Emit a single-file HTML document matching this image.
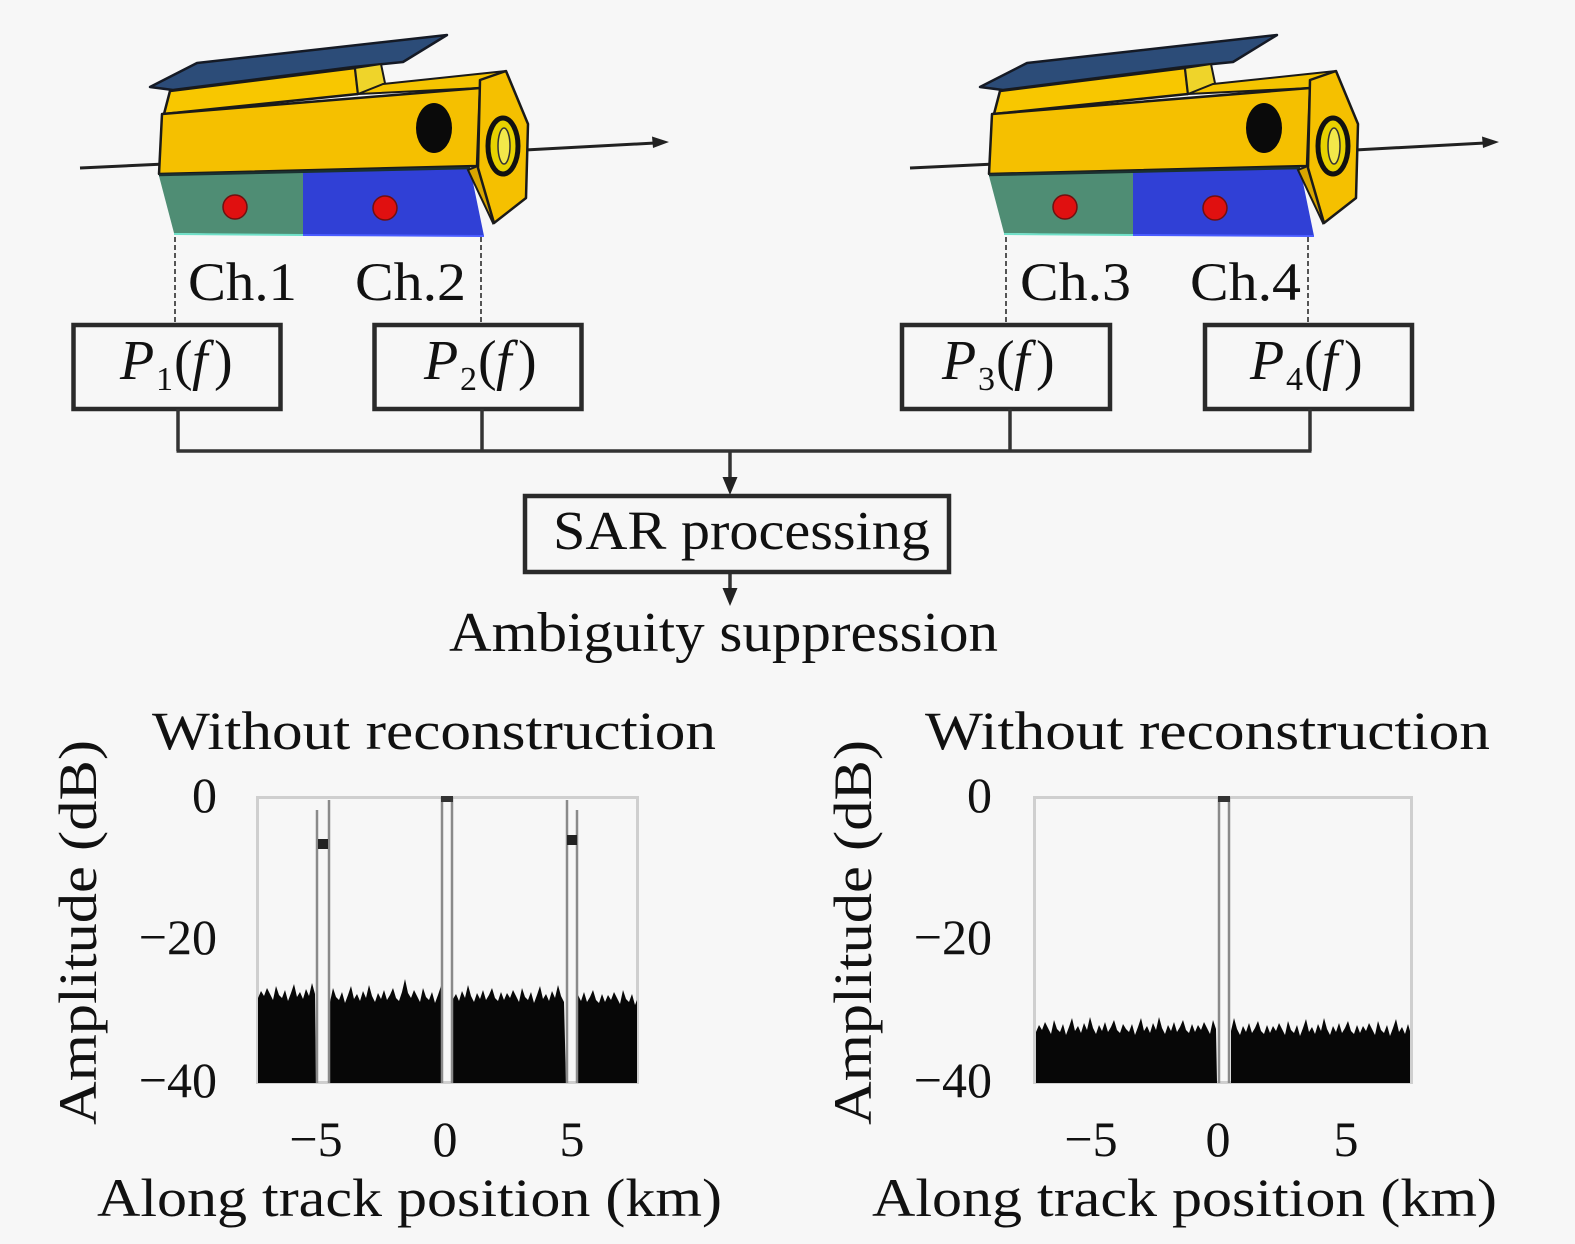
<!DOCTYPE html>
<html>
<head>
<meta charset="utf-8">
<style>
  html,body{margin:0;padding:0;background:#f7f7f7;}
  svg{display:block;}
  text{font-family:"Liberation Serif","DejaVu Serif",serif;fill:#111;}
</style>
</head>
<body>
<svg width="1575" height="1244" viewBox="0 0 1575 1244" xmlns="http://www.w3.org/2000/svg">
  <rect width="1575" height="1244" fill="#f7f7f7"/>

  <!-- ============ Satellite 1 ============ -->
  <g>
    <line x1="80" y1="168" x2="165" y2="164" stroke="#222" stroke-width="3"/>
    <line x1="525" y1="150" x2="655" y2="143" stroke="#222" stroke-width="3"/>
    <polygon points="669,142 652,136.5 653,148" fill="#222"/>
    <polygon points="150,87 197,63 447,35 403,62 353,67 173,90" fill="#2c4c78" stroke="#151a25" stroke-width="2.5" stroke-linejoin="round"/>
    <polygon points="170,91 355,68 358,94 164,114" fill="#f8c700" stroke="#1a1a1a" stroke-width="2.5" stroke-linejoin="round"/>
    <polygon points="355,68 381,64 386,88 358,94" fill="#efd42a" stroke="#1a1a1a" stroke-width="2"/>
    <polygon points="383,84 506,71 480,88 358,94" fill="#f5c400" stroke="#1a1a1a" stroke-width="2"/>
    <polygon points="162,114 480,88 477,166 159,174" fill="#f5c000" stroke="#1a1a1a" stroke-width="2.5" stroke-linejoin="round"/>
    <polygon points="159,176 303,172 303,235 174,233" fill="#4f8d74"/>
    <polygon points="303,172 470,168 484,236 303,235" fill="#3040d6"/>
    <line x1="159" y1="175" x2="470" y2="168" stroke="#1a3030" stroke-width="2.5"/>
    <line x1="174" y1="234" x2="303" y2="235" stroke="#6fe0c8" stroke-width="2"/>
    <line x1="303" y1="235" x2="484" y2="236" stroke="#4a5cff" stroke-width="2"/>
    <polygon points="468,170 478,166 498,216 493,223" fill="#d8a600" stroke="#1a1a1a" stroke-width="2"/>
    <polygon points="480,80 506,71 528,124 526,198 494,223 478,168" fill="#f5c000" stroke="#1a1a1a" stroke-width="2.5" stroke-linejoin="round"/>
    <ellipse cx="503" cy="146" rx="15" ry="28" fill="#e8d200" stroke="#111" stroke-width="5"/>
    <ellipse cx="504" cy="146" rx="6" ry="18" fill="#f2e84a" stroke="#333" stroke-width="1.5"/>
    <ellipse cx="434" cy="128" rx="18" ry="25" fill="#0a0a0a"/>
    <circle cx="235" cy="207" r="12" fill="#e01010" stroke="#701010" stroke-width="1.5"/>
    <circle cx="385" cy="208" r="12" fill="#e01010" stroke="#701010" stroke-width="1.5"/>
    <line x1="175" y1="237" x2="175" y2="323" stroke="#555" stroke-width="2" stroke-dasharray="5,3"/>
    <line x1="481" y1="237" x2="481" y2="323" stroke="#555" stroke-width="2" stroke-dasharray="5,3"/>
  </g>

  <!-- ============ Satellite 2 ============ -->
  <g transform="translate(830,0)">
    <line x1="80" y1="168" x2="165" y2="164" stroke="#222" stroke-width="3"/>
    <line x1="525" y1="150" x2="655" y2="143" stroke="#222" stroke-width="3"/>
    <polygon points="669,142 652,136.5 653,148" fill="#222"/>
    <polygon points="150,87 197,63 447,35 403,62 353,67 173,90" fill="#2c4c78" stroke="#151a25" stroke-width="2.5" stroke-linejoin="round"/>
    <polygon points="170,91 355,68 358,94 164,114" fill="#f8c700" stroke="#1a1a1a" stroke-width="2.5" stroke-linejoin="round"/>
    <polygon points="355,68 381,64 386,88 358,94" fill="#efd42a" stroke="#1a1a1a" stroke-width="2"/>
    <polygon points="383,84 506,71 480,88 358,94" fill="#f5c400" stroke="#1a1a1a" stroke-width="2"/>
    <polygon points="162,114 480,88 477,166 159,174" fill="#f5c000" stroke="#1a1a1a" stroke-width="2.5" stroke-linejoin="round"/>
    <polygon points="159,176 303,172 303,235 174,233" fill="#4f8d74"/>
    <polygon points="303,172 470,168 484,236 303,235" fill="#3040d6"/>
    <line x1="159" y1="175" x2="470" y2="168" stroke="#1a3030" stroke-width="2.5"/>
    <line x1="174" y1="234" x2="303" y2="235" stroke="#6fe0c8" stroke-width="2"/>
    <line x1="303" y1="235" x2="484" y2="236" stroke="#4a5cff" stroke-width="2"/>
    <polygon points="468,170 478,166 498,216 493,223" fill="#d8a600" stroke="#1a1a1a" stroke-width="2"/>
    <polygon points="480,80 506,71 528,124 526,198 494,223 478,168" fill="#f5c000" stroke="#1a1a1a" stroke-width="2.5" stroke-linejoin="round"/>
    <ellipse cx="503" cy="146" rx="15" ry="28" fill="#e8d200" stroke="#111" stroke-width="5"/>
    <ellipse cx="504" cy="146" rx="6" ry="18" fill="#f2e84a" stroke="#333" stroke-width="1.5"/>
    <ellipse cx="434" cy="128" rx="18" ry="25" fill="#0a0a0a"/>
    <circle cx="235" cy="207" r="12" fill="#e01010" stroke="#701010" stroke-width="1.5"/>
    <circle cx="385" cy="208" r="12" fill="#e01010" stroke="#701010" stroke-width="1.5"/>
    <line x1="176" y1="237" x2="176" y2="323" stroke="#555" stroke-width="2" stroke-dasharray="5,3"/>
    <line x1="478" y1="237" x2="478" y2="323" stroke="#555" stroke-width="2" stroke-dasharray="5,3"/>
  </g>

  <!-- Channel labels -->
  <text x="188" y="300" font-size="54" textLength="109" lengthAdjust="spacingAndGlyphs">Ch.1</text>
  <text x="355" y="300" font-size="54" textLength="111" lengthAdjust="spacingAndGlyphs">Ch.2</text>
  <text x="1020" y="300" font-size="54" textLength="111" lengthAdjust="spacingAndGlyphs">Ch.3</text>
  <text x="1190" y="300" font-size="54" textLength="111" lengthAdjust="spacingAndGlyphs">Ch.4</text>

  <!-- P boxes -->
  <g fill="none" stroke="#2a2a2a" stroke-width="4.5">
    <rect x="73.5" y="325" width="207" height="84"/>
    <rect x="374.5" y="325" width="207" height="84"/>
    <rect x="902" y="325" width="208" height="84"/>
    <rect x="1205" y="325" width="207" height="84"/>
  </g>
  <g font-size="56">
    <text y="379"><tspan x="120" font-style="italic">P</tspan><tspan x="156" dy="11" font-size="34">1</tspan><tspan x="174" dy="-11">(</tspan><tspan x="192" font-style="italic">f</tspan><tspan x="214">)</tspan></text>
    <text y="379"><tspan x="424" font-style="italic">P</tspan><tspan x="460" dy="11" font-size="34">2</tspan><tspan x="478" dy="-11">(</tspan><tspan x="496" font-style="italic">f</tspan><tspan x="518">)</tspan></text>
    <text y="379"><tspan x="942" font-style="italic">P</tspan><tspan x="978" dy="11" font-size="34">3</tspan><tspan x="996" dy="-11">(</tspan><tspan x="1014" font-style="italic">f</tspan><tspan x="1036">)</tspan></text>
    <text y="379"><tspan x="1250" font-style="italic">P</tspan><tspan x="1286" dy="11" font-size="34">4</tspan><tspan x="1304" dy="-11">(</tspan><tspan x="1322" font-style="italic">f</tspan><tspan x="1344">)</tspan></text>
  </g>

  <!-- connectors -->
  <g stroke="#333" stroke-width="3.5" fill="none">
    <line x1="178" y1="409" x2="178" y2="451"/>
    <line x1="482" y1="409" x2="482" y2="451"/>
    <line x1="1010" y1="409" x2="1010" y2="451"/>
    <line x1="1310" y1="409" x2="1310" y2="451"/>
    <line x1="176.5" y1="451" x2="1311.5" y2="451"/>
    <line x1="730" y1="451" x2="730" y2="482"/>
    <line x1="730" y1="573" x2="730" y2="592"/>
  </g>
  <polygon points="730,495 722.5,477 737.5,477" fill="#222"/>
  <polygon points="730,606 722.5,588 737.5,588" fill="#222"/>

  <!-- SAR processing box -->
  <rect x="525" y="496" width="424" height="76" fill="none" stroke="#2a2a2a" stroke-width="4.5"/>
  <text x="553" y="549" font-size="55" textLength="377" lengthAdjust="spacingAndGlyphs">SAR processing</text>
  <text x="449" y="651" font-size="56" textLength="549" lengthAdjust="spacingAndGlyphs">Ambiguity suppression</text>

  <!-- ============ Left plot ============ -->
  <text x="152" y="749" font-size="54" textLength="564" lengthAdjust="spacingAndGlyphs">Without reconstruction</text>
  <text transform="translate(96,1125) rotate(-90)" font-size="54" textLength="385" lengthAdjust="spacingAndGlyphs">Amplitude (dB)</text>
  <g font-size="50" text-anchor="end">
    <text x="217" y="812">0</text>
    <text x="217" y="954">−20</text>
    <text x="217" y="1097">−40</text>
  </g>
  <g font-size="50" text-anchor="middle">
    <text x="316" y="1156">−5</text>
    <text x="445" y="1156">0</text>
    <text x="572" y="1156">5</text>
  </g>
  <text x="97" y="1216" font-size="54" textLength="625" lengthAdjust="spacingAndGlyphs">Along track position (km)</text>

  <rect x="257.5" y="797.5" width="380" height="285" fill="none" stroke="#cfcfcf" stroke-width="3"/>
  <g fill="#070707">
    <polygon points="258,1083 258,998 261,991 264,996 267,988 270,994 273,1000 276,986 279,995 282,998 285,990 288,1001 291,993 294,984 297,997 300,992 303,999 306,989 309,996 312,983 315,994 316,1083"/>
    <polygon points="330,1083 330,1002 333,988 336,997 339,1000 342,992 345,1003 348,995 351,986 354,999 357,994 360,1001 363,991 366,998 369,985 372,996 375,1002 378,993 381,999 384,990 387,1000 390,995 393,988 396,998 399,1001 402,992 405,979 408,993 411,998 414,990 417,996 420,1002 423,988 426,997 429,1000 432,992 435,1003 438,995 441,986 441,1083"/>
    <polygon points="453,1083 453,999 456,994 459,1001 462,991 465,998 468,985 471,996 474,1002 477,993 480,999 483,990 486,1000 489,995 492,988 495,998 498,1001 501,992 504,1000 507,993 510,998 513,990 516,996 519,1002 522,988 525,997 528,1000 531,992 534,1003 537,995 540,986 543,999 546,994 549,1001 552,991 555,998 558,985 561,996 564,1002 566,1083"/>
    <polygon points="578,1083 578,995 581,1001 584,992 587,1002 590,997 593,990 596,1000 599,1003 602,994 605,1002 608,995 611,1000 614,992 617,998 620,1004 623,990 626,999 629,1002 632,994 635,1005 637,1000 637,1083"/>
  </g>
  <g stroke="#8a8a8a" stroke-width="2.5" fill="none">
    <line x1="317" y1="810" x2="317" y2="1083"/>
    <line x1="329" y1="800" x2="329" y2="1083"/>
    <line x1="442" y1="797" x2="442" y2="1083"/>
    <line x1="452" y1="797" x2="452" y2="1083"/>
    <line x1="567" y1="800" x2="567" y2="1083"/>
    <line x1="577" y1="810" x2="577" y2="1083"/>
  </g>
  <rect x="318" y="839" width="10" height="10" fill="#222"/>
  <rect x="567" y="835" width="10" height="10" fill="#222"/>
  <rect x="441" y="796" width="12" height="6" fill="#333"/>

  <!-- ============ Right plot ============ -->
  <text x="925" y="749" font-size="54" textLength="565" lengthAdjust="spacingAndGlyphs">Without reconstruction</text>
  <text transform="translate(871,1125) rotate(-90)" font-size="54" textLength="385" lengthAdjust="spacingAndGlyphs">Amplitude (dB)</text>
  <g font-size="50" text-anchor="end">
    <text x="992" y="812">0</text>
    <text x="992" y="954">−20</text>
    <text x="992" y="1097">−40</text>
  </g>
  <g font-size="50" text-anchor="middle">
    <text x="1091" y="1156">−5</text>
    <text x="1218" y="1156">0</text>
    <text x="1346" y="1156">5</text>
  </g>
  <text x="872" y="1216" font-size="54" textLength="625" lengthAdjust="spacingAndGlyphs">Along track position (km)</text>

  <rect x="1034.5" y="797.5" width="377" height="285" fill="none" stroke="#cfcfcf" stroke-width="3"/>
  <g fill="#070707">
    <polygon points="1036,1083 1036,1032 1039,1025 1042,1030 1045,1022 1048,1028 1051,1034 1054,1020 1057,1029 1060,1032 1063,1024 1066,1035 1069,1027 1072,1018 1075,1031 1078,1026 1081,1033 1084,1023 1087,1030 1090,1017 1093,1028 1096,1034 1099,1025 1102,1031 1105,1022 1108,1032 1111,1027 1114,1020 1117,1030 1120,1033 1123,1024 1126,1029 1129,1032 1132,1024 1135,1035 1138,1027 1141,1018 1144,1031 1147,1026 1150,1033 1153,1023 1156,1030 1159,1017 1162,1028 1165,1034 1168,1025 1171,1031 1174,1022 1177,1032 1180,1027 1183,1020 1186,1030 1189,1033 1192,1024 1195,1032 1198,1025 1201,1030 1204,1022 1207,1028 1210,1034 1213,1020 1216,1029 1217,1083"/>
    <polygon points="1231,1083 1231,1031 1234,1018 1237,1029 1240,1035 1243,1026 1246,1032 1249,1023 1252,1033 1255,1028 1258,1021 1261,1031 1264,1034 1267,1025 1270,1033 1273,1026 1276,1031 1279,1023 1282,1029 1285,1035 1288,1021 1291,1030 1294,1033 1297,1025 1300,1036 1303,1028 1306,1019 1309,1032 1312,1027 1315,1034 1318,1024 1321,1031 1324,1018 1327,1029 1330,1035 1333,1026 1336,1032 1339,1023 1342,1033 1345,1028 1348,1021 1351,1031 1354,1034 1357,1025 1360,1033 1363,1026 1366,1031 1369,1023 1372,1029 1375,1035 1378,1021 1381,1030 1384,1033 1387,1025 1390,1036 1393,1028 1396,1019 1399,1032 1402,1027 1405,1034 1408,1024 1410,1031 1410,1083"/>
  </g>
  <g stroke="#8a8a8a" stroke-width="2.5" fill="none">
    <line x1="1219" y1="797" x2="1219" y2="1083"/>
    <line x1="1229" y1="797" x2="1229" y2="1083"/>
  </g>
  <rect x="1218" y="796" width="12" height="6" fill="#333"/>
</svg>
</body>
</html>
